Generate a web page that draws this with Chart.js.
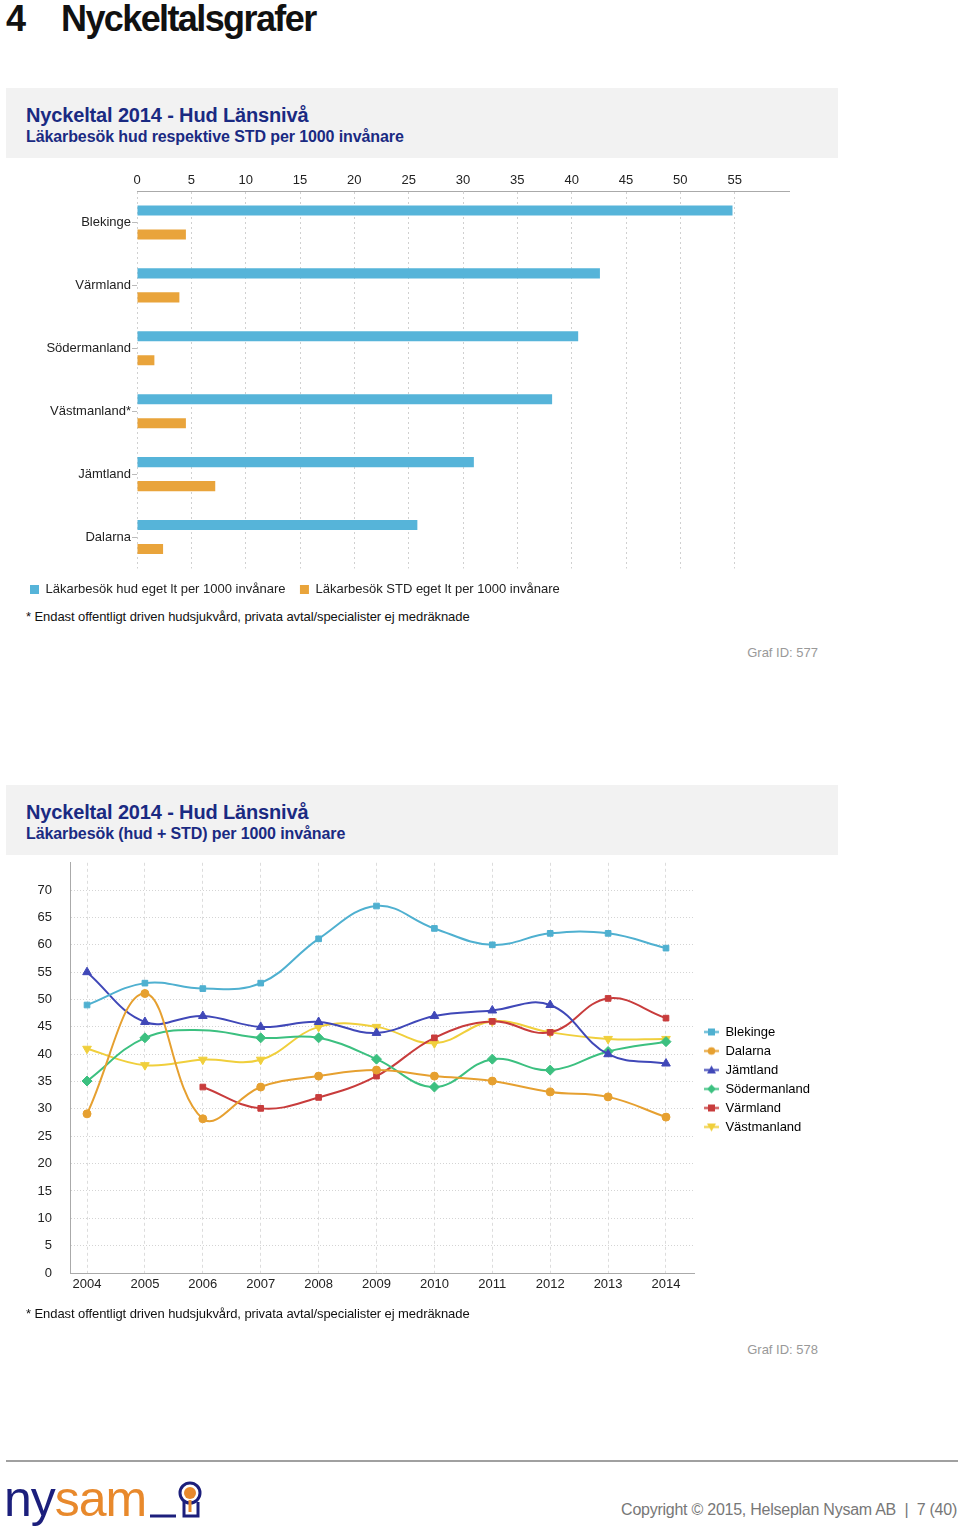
<!DOCTYPE html>
<html>
<head>
<meta charset="utf-8">
<script src="https://cdn.jsdelivr.net/npm/chart.js@4.4.0/dist/chart.umd.min.js"></script>
<style>
  body { margin: 0; background: #fff; font-family: "Liberation Sans", Arial, sans-serif; }
  #page { position: relative; width: 960px; height: 1529px; overflow: hidden; }
  .abs { position: absolute; }
  .heading { top: -2px; font-size: 36px; font-weight: bold; color: #111; letter-spacing: -1.6px; white-space: nowrap; }
  .panel { left: 6px; width: 832px; height: 70px; background: #f2f2f2; }
  .panel .t1 { position: absolute; left: 20px; top: 16px; font-size: 20px; font-weight: bold; color: #1a2a82; white-space: nowrap; letter-spacing: -0.15px; }
  .panel .t2 { position: absolute; left: 20px; top: 40px; font-size: 16px; font-weight: bold; color: #1a2a82; white-space: nowrap; letter-spacing: -0.1px; }
  .note { left: 26px; font-size: 13px; color: #111; white-space: nowrap; letter-spacing: -0.08px; }
  .grafid { right: 142px; font-size: 13px; color: #999; white-space: nowrap; }
  canvas { position: absolute; left: 0; }
  .rule { left: 6px; top: 1460px; width: 952px; height: 2px; background: #a0a0a0; }
  .logo { left: 4px; top: 1470px; font-size: 50px; white-space: nowrap; letter-spacing: -1px; }
  .copy { right: 3px; top: 1501px; font-size: 16px; color: #777; white-space: nowrap; letter-spacing: -0.25px; }
</style>
</head>
<body>
<div id="page">
  <div class="abs heading" style="left:6px">4</div>
  <div class="abs heading" style="left:61px">Nyckeltalsgrafer</div>

  <div class="abs panel" style="top:88px">
    <div class="t1">Nyckeltal 2014 - Hud Länsnivå</div>
    <div class="t2">Läkarbesök hud respektive STD per 1000 invånare</div>
  </div>
  <canvas id="barChart" width="840" height="446" style="top:160px"></canvas>
  <div class="abs note" style="top:609px">* Endast offentligt driven hudsjukvård, privata avtal/specialister ej medräknade</div>
  <div class="abs grafid" style="top:645px">Graf ID: 577</div>

  <div class="abs panel" style="top:785px">
    <div class="t1">Nyckeltal 2014 - Hud Länsnivå</div>
    <div class="t2">Läkarbesök (hud + STD) per 1000 invånare</div>
  </div>
  <canvas id="lineChart" width="840" height="473" style="top:837px"></canvas>
  <div class="abs note" style="top:1306px">* Endast offentligt driven hudsjukvård, privata avtal/specialister ej medräknade</div>
  <div class="abs grafid" style="top:1342px">Graf ID: 578</div>

  <div class="abs rule"></div>
  <div class="abs logo"><span style="color:#1c1f7c">ny</span><span style="color:#e8892c">sam</span></div>
  <svg class="abs" style="left:148px;top:1478px" width="60" height="46">
    <line x1="2" y1="38" x2="28" y2="38" stroke="#1c1f7c" stroke-width="3"/>
    <circle cx="42" cy="15" r="10" fill="none" stroke="#1c1f7c" stroke-width="3"/>
    <circle cx="42" cy="15" r="6" fill="#e8892c"/>
    <path d="M36 24 L36 38 L50 38 L50 24" fill="none" stroke="#1c1f7c" stroke-width="3"/>
    <line x1="42" y1="22" x2="42" y2="34" stroke="#e8892c" stroke-width="3"/>
  </svg>
  <div class="abs copy">Copyright © 2015, Helseplan Nysam AB &nbsp;|&nbsp; 7 (40)</div>
</div>

<script>
// bar chart data
const regions = ['Blekinge', 'Värmland', 'Södermanland', 'Västmanland*', 'Jämtland', 'Dalarna'];
const hudValues = [54.8, 42.6, 40.6, 38.2, 31.0, 25.8];
const stdValues = [4.5, 3.9, 1.6, 4.5, 7.2, 2.4];
const barTicks = [0, 5, 10, 15, 20, 25, 30, 35, 40, 45, 50, 55];

// line chart data
const years = [2004, 2005, 2006, 2007, 2008, 2009, 2010, 2011, 2012, 2013, 2014];
const blekinge = [49.0, 53.0, 52.0, 53.0, 61.1, 67.1, 63.0, 60.0, 62.1, 62.1, 59.4];
const dalarna = [29.1, 51.1, 28.2, 34.0, 36.0, 37.1, 36.0, 35.1, 33.1, 32.2, 28.5];
const jamtland = [55.0, 45.9, 47.0, 45.0, 45.9, 43.9, 47.0, 48.0, 49.0, 40.0, 38.3];
const sodermanland = [35.1, 43.0, 44.4, 43.0, 43.0, 39.1, 34.0, 39.1, 37.1, 40.5, 42.3];
const varmland = [null, null, 34.0, 30.1, 32.1, 36.0, 43.0, 46.0, 44.0, 50.2, 46.6];
const vastmanland = [41.0, 38.0, 39.0, 39.0, 45.0, 45.0, 42.0, 46.0, 44.0, 42.8, 42.8];
const sodermanlandNoMarker = [2006];
const yTicks = [0, 5, 10, 15, 20, 25, 30, 35, 40, 45, 50, 55, 60, 65, 70];

Chart.defaults.font.family = '"Liberation Sans", Arial, sans-serif';
Chart.defaults.font.size = 13;
Chart.defaults.color = '#222';

new Chart(document.getElementById('barChart'), {
  type: 'bar',
  data: {
    labels: regions,
    datasets: [{
      label: 'Läkarbesök hud eget lt per 1000 invånare',
      data: hudValues,
      backgroundColor: '#56b4d9',
      categoryPercentage: 0.762,
      barPercentage: 0.42
    }, {
      label: 'Läkarbesök STD eget lt per 1000 invånare',
      data: stdValues,
      backgroundColor: '#e9a43b',
      categoryPercentage: 0.762,
      barPercentage: 0.42
    }]
  },
  options: {
    indexAxis: 'y',
    responsive: false,
    animation: false,
    layout: { padding: { left: 15.5, right: 51, top: 0, bottom: 0 } },
    plugins: {
      legend: {
        position: 'bottom',
        align: 'start',
        labels: { boxWidth: 9, boxHeight: 9, padding: 14.5, font: { size: 13 } }
      },
      tooltip: { enabled: false }
    },
    scales: {
      x: {
        position: 'top',
        min: 0,
        max: 60,
        afterBuildTicks: s => { s.ticks = barTicks.concat([60]).map(v => ({ value: v })); },
        ticks: { padding: 3, callback: v => (barTicks.includes(v) ? String(v) : '') },
        grid: {
          drawTicks: false,
          color: ctx => (ctx.tick && ctx.tick.value === 60 ? 'rgba(0,0,0,0)' : '#d0d0d0')
        },
        border: { color: '#aaa', dash: [2, 3] },
        afterFit: s => { s.height = 31; }
      },
      y: {
        grid: { drawOnChartArea: false, drawTicks: true, tickLength: 5, offset: false, color: '#bbb' },
        border: { display: false },
        ticks: { padding: 1 },
        afterFit: s => { s.width = 121.5; }
      }
    }
  }
});

// legend icons: short line with the series marker
function legendIcon(color, shape) {
  const c = document.createElement('canvas');
  c.width = 18; c.height = 13;
  const g = c.getContext('2d');
  g.strokeStyle = color; g.fillStyle = color; g.lineWidth = 2;
  g.beginPath(); g.moveTo(3, 6.5); g.lineTo(18, 6.5); g.stroke();
  const x = 10.5, y = 6.5;
  g.beginPath();
  if (shape === 'rect') { g.rect(x - 3.5, y - 3.5, 7, 7); }
  else if (shape === 'circle') { g.arc(x, y, 3.8, 0, Math.PI * 2); }
  else if (shape === 'triangle') { g.moveTo(x, y - 4.5); g.lineTo(x + 4.5, y + 3.5); g.lineTo(x - 4.5, y + 3.5); g.closePath(); }
  else if (shape === 'triangleDown') { g.moveTo(x, y + 4.5); g.lineTo(x + 4.5, y - 3.5); g.lineTo(x - 4.5, y - 3.5); g.closePath(); }
  else if (shape === 'rectRot') { g.moveTo(x, y - 4.5); g.lineTo(x + 4.5, y); g.lineTo(x, y + 4.5); g.lineTo(x - 4.5, y); g.closePath(); }
  g.fill();
  return c;
}

function series(label, values, color, shape, radius, hiddenYears) {
  return {
    label: label,
    data: years.map((yr, i) => ({ x: yr, y: values[i] })),
    borderColor: color,
    backgroundColor: color,
    borderWidth: 2,
    tension: 0.4,
    pointStyle: shape === 'triangleDown' ? 'triangle' : shape,
    rotation: shape === 'triangleDown' ? 180 : 0,
    pointRadius: ctx => (hiddenYears && hiddenYears.includes(years[ctx.dataIndex]) ? 0 : radius),
    pointBorderWidth: 1,
    icon: legendIcon(color, shape)
  };
}

new Chart(document.getElementById('lineChart'), {
  type: 'line',
  data: {
    datasets: [
      series('Blekinge', blekinge, '#4fb0d0', 'rect', 4),
      series('Dalarna', dalarna, '#e6a030', 'circle', 4),
      series('Jämtland', jamtland, '#4048b8', 'triangle', 5),
      series('Södermanland', sodermanland, '#3cc080', 'rectRot', 5, sodermanlandNoMarker),
      series('Värmland', varmland, '#c83c3c', 'rect', 4),
      series('Västmanland', vastmanland, '#f0cf3c', 'triangleDown', 5)
    ]
  },
  options: {
    responsive: false,
    animation: false,
    layout: { padding: { left: 0, right: 20, top: 12, bottom: 0 } },
    plugins: {
      legend: {
        position: 'right',
        labels: {
          usePointStyle: true,
          pointStyleWidth: 18,
          boxHeight: 13,
          padding: 6,
          font: { size: 13 },
          generateLabels: chart => chart.data.datasets.map((d, i) => ({
            text: d.label,
            pointStyle: d.icon,
            fillStyle: d.borderColor,
            strokeStyle: d.borderColor,
            lineWidth: 0,
            hidden: false,
            datasetIndex: i
          }))
        }
      },
      tooltip: { enabled: false }
    },
    scales: {
      x: {
        type: 'linear',
        min: 2003.706,
        max: 2014.5,
        afterBuildTicks: s => { s.ticks = years.map(v => ({ value: v })); },
        ticks: { padding: 4, autoSkip: false, maxRotation: 0, callback: v => String(v) },
        grid: { drawTicks: false, color: '#dcdcdc' },
        border: { color: '#aaa', dash: [3, 3] },
        afterFit: s => { s.height = 37; }
      },
      y: {
        min: 0,
        max: 75,
        afterBuildTicks: s => { s.ticks = yTicks.concat([75]).map(v => ({ value: v })); },
        ticks: { padding: 18, callback: v => (yTicks.includes(v) ? String(v) : '') },
        grid: {
          drawTicks: false,
          color: ctx => (ctx.tick && ctx.tick.value === 75 ? 'rgba(0,0,0,0)' : '#d4d4d4')
        },
        border: { color: '#aaa', dash: [1, 2] },
        afterFit: s => { s.width = 70; }
      }
    }
  }
});
</script>
</body>
</html>
